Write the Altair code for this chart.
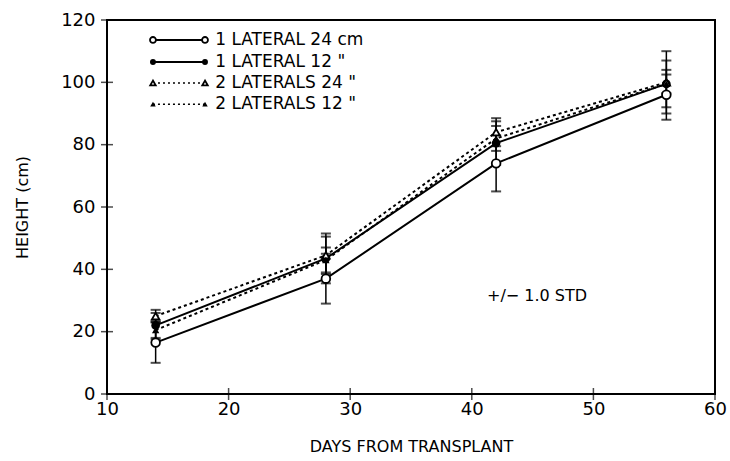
import altair as alt
import pandas as pd

# ---------------- data ----------------
days = [14, 28, 42, 56]
series_names = ["1 LATERAL 24 cm", "1 LATERAL 12  \"", "2 LATERALS 24 \"", "2 LATERALS 12 \""]
lat1_24 = [16.5, 37, 74, 96]
lat1_12 = [22, 43.5, 80.5, 99.5]
lat2_24 = [25, 44.5, 84, 100]
lat2_12 = [20.5, 43, 82, 99.5]
sd_lat1_24 = [6.5, 8, 9, 8]
sd_lat1_12 = [4, 8, 7, 7.5]
sd_lat2_24 = [2, 6, 4.5, 10]
sd_lat2_12 = [3, 4, 4, 3]
x_ticks = [10, 20, 30, 40, 50, 60]
y_ticks = [0, 20, 40, 60, 80, 100, 120]

means = [lat1_24, lat1_12, lat2_24, lat2_12]
sds = [sd_lat1_24, sd_lat1_12, sd_lat2_24, sd_lat2_12]
styles = [("solid", "open", "circle"), ("solid", "filled", "circle"),
          ("dotted", "open", "triangle-up"), ("dotted", "filled", "triangle-up")]

rows = []
for name, m, s, st in zip(series_names, means, sds, styles):
    for d, v, e in zip(days, m, s):
        rows.append({"series": name, "day": d, "h": v, "lo": v - e, "hi": v + e,
                     "dash": st[0], "fill": st[1], "shape": st[2]})
df = pd.DataFrame(rows)

# legend layout (in data units)
leg_x0, leg_x1, leg_xt = 13.78, 18.06, 18.9
leg_y = [113.6, 106.5, 99.8, 93.0]
leg_rows = []
for name, st, yy in zip(series_names, styles, leg_y):
    leg_rows.append({"series": name, "x0": leg_x0, "x1": leg_x1, "xt": leg_xt, "y": yy,
                     "dash": st[0], "fill": st[1], "shape": st[2]})
leg = pd.DataFrame(leg_rows)
leg_pts = pd.concat([leg.assign(px=leg["x0"]), leg.assign(px=leg["x1"])])

xs = alt.Scale(domain=[10, 60], nice=False, zero=False)
ys = alt.Scale(domain=[0, 120], nice=False, zero=False)
FONT = "DejaVu Sans"

base = alt.Chart(df)
X = alt.X("day:Q", scale=xs,
          axis=alt.Axis(values=x_ticks, ticks=False, domain=False, grid=False, labelFontSize=18,
                        labelPadding=6, labelFlush=False, title="DAYS FROM TRANSPLANT",
                        titleFontSize=16, titleFontWeight="normal", titlePadding=20,
                        labelFont=FONT, titleFont=FONT, labelColor="black", titleColor="black"))
Y = alt.Y("h:Q", scale=ys,
          axis=alt.Axis(values=y_ticks, ticks=False, domain=False, grid=False, labelFontSize=18,
                        labelPadding=12, labelFlush=False, title="HEIGHT (cm)", titleFontSize=16,
                        titleFontWeight="normal", titlePadding=30, labelFont=FONT, titleFont=FONT,
                        labelColor="black", titleColor="black"))

err = base.mark_rule(color="black", strokeWidth=1.5).encode(
    x=alt.X("day:Q", scale=xs), y=alt.Y("lo:Q", scale=ys), y2="hi:Q")
cap_lo = base.mark_tick(orient="horizontal", size=10, thickness=2, color="black").encode(
    x=alt.X("day:Q", scale=xs), y=alt.Y("lo:Q", scale=ys))
cap_hi = base.mark_tick(orient="horizontal", size=10, thickness=2, color="black").encode(
    x=alt.X("day:Q", scale=xs), y=alt.Y("hi:Q", scale=ys))

solid = base.transform_filter(alt.datum.dash == "solid").mark_line(
    color="black", strokeWidth=2).encode(x=X, y=Y, detail="series:N")
dotted = base.transform_filter(alt.datum.dash == "dotted").mark_line(
    color="black", strokeWidth=2, strokeDash=[3, 3]).encode(x=X, y=Y, detail="series:N")

def pts(data, xf, yf, shape, fill, size):
    sel = alt.Chart(data).transform_filter(
        (alt.datum.shape == shape) & (alt.datum.fill == fill))
    if fill == "open":
        mk = sel.mark_point(shape=shape, filled=True, fill="white", stroke="black",
                            strokeWidth=1.8, size=size, opacity=1)
    else:
        mk = sel.mark_point(shape=shape, filled=True, color="black", size=size, opacity=1)
    return mk.encode(x=alt.X(xf, scale=xs), y=alt.Y(yf, scale=ys))

points = [pts(df, "day:Q", "h:Q", s[2], s[1], 75 if s[2] == "circle" else 55) for s in styles]

# axis ticks crossing the frame
xt = alt.Chart(pd.DataFrame({"t": x_ticks})).mark_tick(
    orient="vertical", size=12, thickness=1.5, color="black").encode(
    x=alt.X("t:Q", scale=xs), y=alt.YDatum(0))
yt = alt.Chart(pd.DataFrame({"t": y_ticks})).mark_tick(
    orient="horizontal", size=12, thickness=1.5, color="black").encode(
    y=alt.Y("t:Q", scale=ys), x=alt.XDatum(10))

# legend
leg_solid = alt.Chart(leg).transform_filter(alt.datum.dash == "solid").mark_rule(
    color="black", strokeWidth=2).encode(
    x=alt.X("x0:Q", scale=xs), x2="x1:Q", y=alt.Y("y:Q", scale=ys))
leg_dot = alt.Chart(leg).transform_filter(alt.datum.dash == "dotted").mark_rule(
    color="black", strokeWidth=1.5, strokeDash=[2, 3]).encode(
    x=alt.X("x0:Q", scale=xs), x2="x1:Q", y=alt.Y("y:Q", scale=ys))
leg_points = [pts(leg_pts, "px:Q", "y:Q", s[2], s[1], 35 if s[2] == "circle" else 30) for s in styles]
leg_text = alt.Chart(leg).mark_text(align="left", baseline="middle", fontSize=17, font=FONT,
                                    color="black").encode(
    x=alt.X("xt:Q", scale=xs), y=alt.Y("y:Q", scale=ys), text="series:N")

note = alt.Chart(pd.DataFrame({"x": [41.25], "y": [31.4], "t": ["+/\u2212 1.0 STD"]})).mark_text(
    align="left", baseline="middle", fontSize=16, font=FONT, color="black").encode(
    x=alt.X("x:Q", scale=xs), y=alt.Y("y:Q", scale=ys), text="t:N")

chart = alt.layer(solid, dotted, err, cap_lo, cap_hi, *points, xt, yt,
                  leg_solid, leg_dot, *leg_points, leg_text, note).properties(
    width=608, height=374,
    autosize=alt.AutoSizeParams(type="none"),
    padding={"left": 107, "top": 20, "right": 15, "bottom": 67},
    background="white",
).configure_view(stroke="black", strokeWidth=2)

chart.save("out.html", embed_options={"renderer": "svg", "actions": False})
